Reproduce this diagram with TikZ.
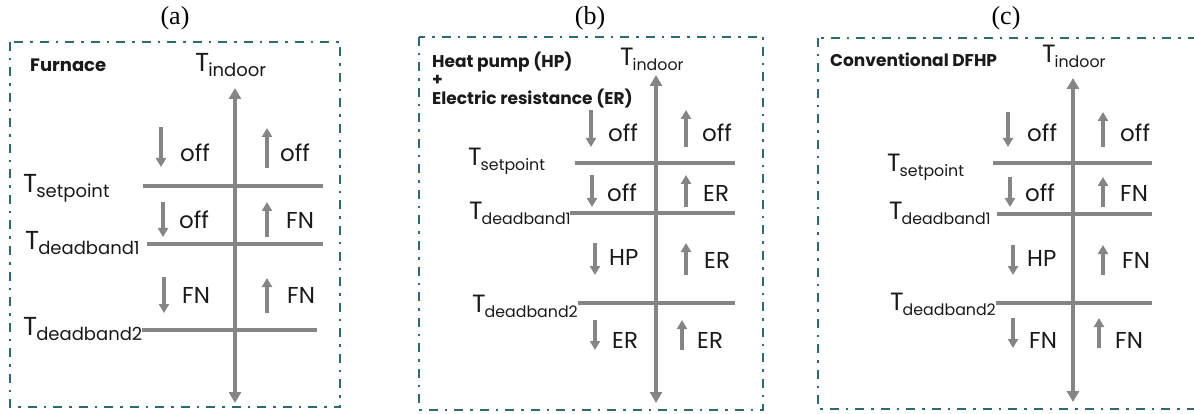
\documentclass[tikz,border=0pt]{standalone}
\usepackage{fontspec}
\setmainfont{Poppins}
\newfontfamily\capfont{Liberation Serif}
\usetikzlibrary{arrows.meta}
\definecolor{boxteal}{HTML}{2E6A6E}
\definecolor{axgray}{HTML}{858585}
\definecolor{txt}{HTML}{1A1A1A}
\newcommand{\Tl}[1]{{\fontsize{26}{26}\selectfont T}\kern-1pt\raisebox{-5pt}{\fontsize{18}{18}\selectfont #1}}
\newcommand{\Tm}[1]{{\fontsize{25}{25}\selectfont T}\kern-1pt\raisebox{-5pt}{\fontsize{15.8}{15.8}\selectfont #1}}
\tikzset{
  panelbox/.style={draw=boxteal, line width=2.6pt, dash pattern=on 9pt off 7pt on 2.5pt off 7pt},
  axis/.style={draw=axgray, line width=3.5pt, {Triangle[length=11pt,width=12pt]}-{Triangle[length=11pt,width=12pt]}},
  level/.style={draw=axgray, line width=3.5pt},
  small/.style={draw=axgray, line width=3.2pt, -{Triangle[length=9pt,width=10pt]}},
  state/.style={anchor=west, inner sep=0pt, text=txt, font=\fontsize{23}{23}\selectfont},
  tlab/.style={anchor=base west, inner sep=0pt, text=txt},
  title/.style={anchor=base west, inner sep=0pt, text=txt, font=\bfseries\fontsize{17}{18.5}\selectfont, align=left},
  captext/.style={inner sep=0pt, text=black, font=\capfont\fontsize{26}{26}\selectfont}
}
\begin{document}
\begin{tikzpicture}[x=1pt,y=-1pt]
\useasboundingbox (0,0) rectangle (1194,414);
\clip (0,0) rectangle (1194,414);
% ---------------- Panel (a)
\node[captext] (capa) at (175,18) {(a)};
\draw[panelbox] (10,42) rectangle (340,407);
\node[title, font=\bfseries\fontsize{18}{18}\selectfont] (ta) at (30,72) {Furnace};
\node[tlab] (ina) at (195,72) {\Tl{indoor}};
\draw[axis] (235,88) -- (235,403);
\draw[level] (143,186) -- (323,186);
\draw[level] (147,244) -- (323,244);
\draw[level] (142,330) -- (317,330);
\node[tlab] (spa) at (23,193) {\Tl{setpoint}};
\node[tlab] (d1a) at (25,250) {\Tl{deadband1}};
\node[tlab] (d2a) at (23,335) {\Tl{deadband2}};
\draw[small] (161,127) -- (161,167);
\draw[small] (267,168) -- (267,128);
\node[state] (a11) at (180,153) {off};
\node[state] (a12) at (280,153) {off};
\draw[small] (163,202) -- (163,237);
\draw[small] (267,237) -- (267,202);
\node[state] (a21) at (179,220) {off};
\node[state] (a22) at (286,220) {FN};
\draw[small] (164,277) -- (164,313);
\draw[small] (267,313) -- (267,278);
\node[state] (a31) at (182,295) {FN};
\node[state] (a32) at (287,295) {FN};
% ---------------- Panel (b)
\node[captext] (capb) at (590,18) {(b)};
\draw[panelbox] (419,37) rectangle (763,410);
\node[title] (tb1) at (432,68) {Heat pump (HP)};
\node[title] (tb2) at (432,86) {+};
\node[title] (tb3) at (432,105) {Electric resistance (ER)};
\node[tlab] (inb) at (620,66) {\Tm{indoor}};
\draw[axis] (656,75) -- (656,403);
\draw[level] (575,163) -- (735,163);
\draw[level] (570,213) -- (735,213);
\draw[level] (578,303) -- (735,303);
\node[tlab] (spb) at (468,166) {\Tm{setpoint}};
\node[tlab] (d1b) at (469,220) {\Tm{deadband1}};
\node[tlab] (d2b) at (472,312) {\Tm{deadband2}};
\draw[small] (591,110) -- (591,147);
\draw[small] (686,147) -- (686,110);
\node[state] (b11) at (608,133) {off};
\node[state] (b12) at (702,133) {off};
\draw[small] (592,175) -- (592,207);
\draw[small] (686,207) -- (686,175);
\node[state] (b21) at (607,193) {off};
\node[state] (b22) at (703,193) {ER};
\draw[small] (595,243) -- (595,275);
\draw[small] (686,275) -- (686,243);
\node[state] (b31) at (609,257) {HP};
\node[state] (b32) at (704,260) {ER};
\draw[small] (595,320) -- (595,350);
\draw[small] (682,350) -- (682,320);
\node[state] (b41) at (612,340) {ER};
\node[state] (b42) at (697,340) {ER};
% ---------------- Panel (c)
\node[captext] (capc) at (1006,18) {(c)};
\draw[panelbox] (818,38) rectangle (1210,409);
\node[title] (tc) at (830,67) {Conventional DFHP};
\node[tlab] (inc) at (1042,63) {\Tm{indoor}};
\draw[axis] (1073,78) -- (1073,402);
\draw[level] (993,163) -- (1152,163);
\draw[level] (997,214) -- (1152,214);
\draw[level] (996,303) -- (1152,303);
\node[tlab] (spc) at (887,172) {\Tm{setpoint}};
\node[tlab] (d1c) at (889,220) {\Tm{deadband1}};
\node[tlab] (d2c) at (890,310) {\Tm{deadband2}};
\draw[small] (1008,112) -- (1008,147);
\draw[small] (1103,147) -- (1103,112);
\node[state] (c11) at (1027,133) {off};
\node[state] (c12) at (1120,133) {off};
\draw[small] (1010,177) -- (1010,207);
\draw[small] (1103,207) -- (1103,177);
\node[state] (c21) at (1025,193) {off};
\node[state] (c22) at (1120,193) {FN};
\draw[small] (1013,245) -- (1013,275);
\draw[small] (1103,275) -- (1103,245);
\node[state] (c31) at (1027,258) {HP};
\node[state] (c32) at (1122,260) {FN};
\draw[small] (1013,318) -- (1013,348);
\draw[small] (1099,348) -- (1099,318);
\node[state] (c41) at (1029,340) {FN};
\node[state] (c42) at (1115,340) {FN};
\end{tikzpicture}
\end{document}
